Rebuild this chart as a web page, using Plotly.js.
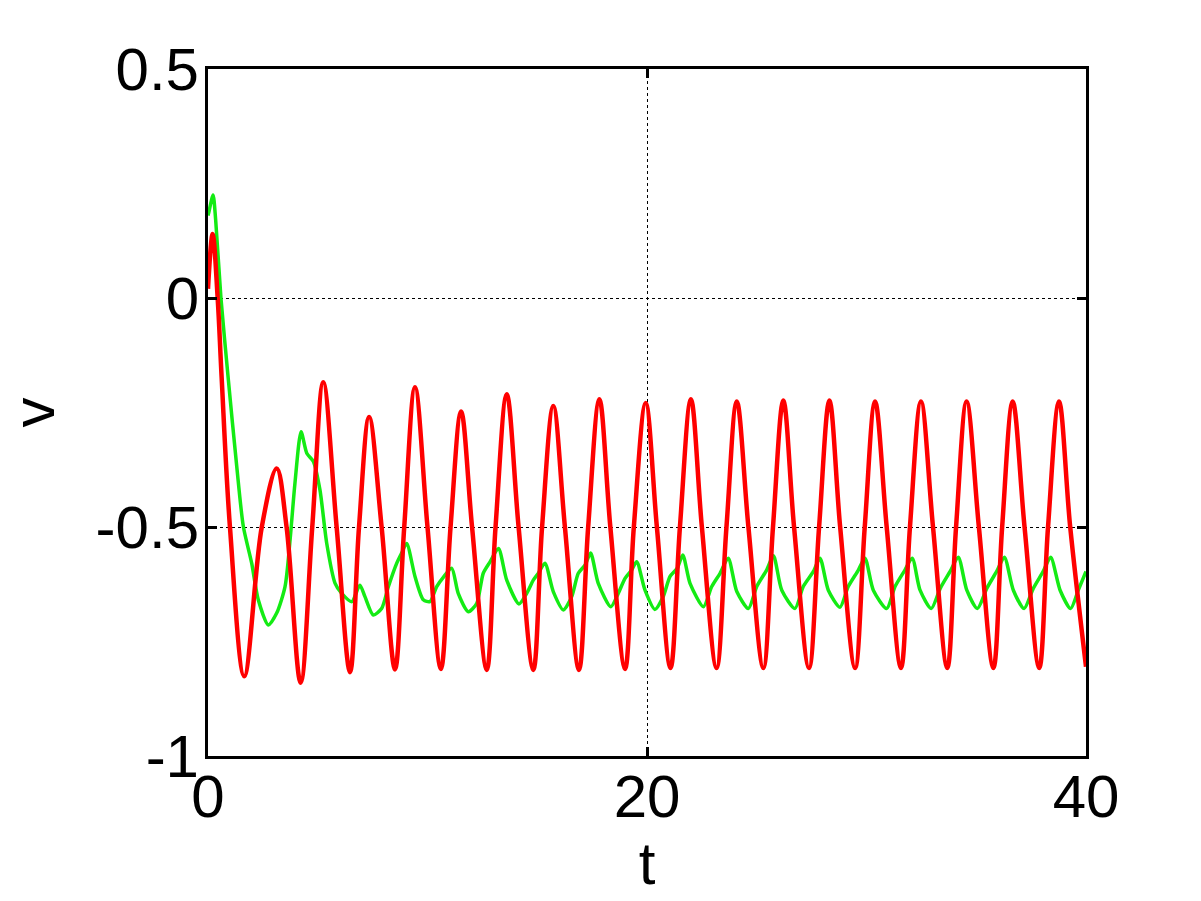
<!DOCTYPE html>
<html>
<head>
<meta charset="utf-8">
<script src="https://cdn.plot.ly/plotly-3.0.1.min.js"></script>
<style>
  html, body { margin: 0; padding: 0; background: #ffffff; }
  #chart { width: 1201px; height: 901px; }
</style>
</head>
<body>
<div id="chart"></div>
<script>
// ---- data ----
const redT = [0, 0.21, 0.44, 0.62, 1.0, 1.65, 2.45, 3.13, 3.58, 4.22, 4.75, 5.25, 5.86, 6.47, 6.88, 7.34, 7.91, 8.52, 8.94, 9.43, 10.0, 10.61, 11.05, 11.53, 12.03, 12.70, 13.10, 13.61, 14.15, 14.82, 15.22, 15.73, 16.26, 16.90, 17.32, 17.83, 18.33, 19.00, 19.40, 19.94, 20.45, 21.07, 21.50, 22.00, 22.50, 23.17, 23.62, 24.09, 24.62, 25.30, 25.74, 26.21, 26.70, 27.38, 27.84, 28.31, 28.80, 29.48, 29.92, 30.39, 30.92, 31.57, 31.98, 32.48, 33.03, 33.68, 34.08, 34.56, 35.12, 35.78, 36.18, 36.66, 37.20, 37.87, 38.27, 38.77, 39.28, 40.0];
const redV = [0.02, 0.14, 0.0, -0.172, -0.5, -0.826, -0.5, -0.372, -0.5, -0.840, -0.5, -0.184, -0.5, -0.817, -0.5, -0.260, -0.5, -0.811, -0.5, -0.195, -0.5, -0.810, -0.5, -0.248, -0.5, -0.812, -0.5, -0.210, -0.5, -0.812, -0.5, -0.236, -0.5, -0.812, -0.5, -0.221, -0.5, -0.810, -0.5, -0.229, -0.5, -0.808, -0.5, -0.221, -0.5, -0.808, -0.5, -0.226, -0.5, -0.808, -0.5, -0.224, -0.5, -0.808, -0.5, -0.224, -0.5, -0.808, -0.5, -0.226, -0.5, -0.808, -0.5, -0.226, -0.5, -0.808, -0.5, -0.226, -0.5, -0.808, -0.5, -0.226, -0.5, -0.808, -0.5, -0.226, -0.5, -0.805];

const greenT = [0, 0.05, 0.23, 0.35, 0.59, 0.93, 1.31, 1.61, 1.99, 2.29, 2.75, 3.13, 3.51, 3.74, 3.96, 4.24, 4.50, 4.80, 5.10, 5.41, 5.79, 6.09, 6.55, 6.92, 7.15, 7.53, 7.91, 8.22, 8.60, 8.82, 9.05, 9.43, 9.81, 10.11, 10.42, 10.72, 11.10, 11.40, 11.86, 12.24, 12.54, 12.85, 13.23, 13.61, 14.17, 14.52, 14.82, 15.05, 15.35, 15.73, 16.19, 16.57, 16.87, 17.18, 17.43, 17.78, 18.35, 18.69, 19.00, 19.30, 19.53, 19.91, 20.36, 20.74, 21.05, 21.38, 21.63, 21.96, 22.57, 22.95, 23.33, 23.70, 24.09, 24.62, 25.00, 25.45, 25.76, 26.14, 26.74, 27.12, 27.58, 27.88, 28.26, 28.79, 29.17, 29.63, 29.93, 30.31, 30.92, 31.30, 31.75, 32.08, 32.44, 32.95, 33.36, 33.81, 34.18, 34.57, 35.05, 35.48, 35.93, 36.28, 36.69, 37.18, 37.60, 38.05, 38.39, 38.82, 39.30, 39.65, 40.0];
const greenV = [0.18, 0.19, 0.225, 0.17, 0.0, -0.18, -0.368, -0.499, -0.579, -0.659, -0.714, -0.688, -0.630, -0.528, -0.405, -0.292, -0.339, -0.357, -0.419, -0.536, -0.623, -0.645, -0.663, -0.627, -0.652, -0.692, -0.678, -0.630, -0.579, -0.557, -0.536, -0.608, -0.659, -0.663, -0.630, -0.610, -0.590, -0.645, -0.685, -0.667, -0.601, -0.576, -0.547, -0.616, -0.668, -0.645, -0.616, -0.601, -0.579, -0.641, -0.681, -0.652, -0.601, -0.583, -0.557, -0.623, -0.674, -0.645, -0.612, -0.594, -0.576, -0.638, -0.680, -0.652, -0.608, -0.590, -0.561, -0.623, -0.674, -0.630, -0.601, -0.568, -0.641, -0.678, -0.630, -0.594, -0.563, -0.638, -0.678, -0.630, -0.597, -0.568, -0.638, -0.675, -0.630, -0.594, -0.568, -0.638, -0.678, -0.630, -0.594, -0.568, -0.638, -0.678, -0.634, -0.597, -0.566, -0.638, -0.678, -0.634, -0.597, -0.566, -0.638, -0.678, -0.634, -0.597, -0.566, -0.638, -0.678, -0.638, -0.597];

const xTickVals = [0, 20, 40];
const xTickText = ['0', '20', '40'];
const yTickVals = [-1, -0.5, 0, 0.5];
const yTickText = ['-1', '-0.5', '0', '0.5'];
const xLabel = 't';
const yLabel = 'v';

// ---- chart ----
const font = { family: 'Liberation Sans, Arial, sans-serif', size: 60, color: '#000000' };

const traces = [
  {
    x: greenT, y: greenV, type: 'scatter', mode: 'lines',
    line: { color: 'rgb(20,235,20)', width: 3.5, shape: 'spline', smoothing: 0.7 },
    hoverinfo: 'skip', showlegend: false
  },
  {
    x: redT, y: redV, type: 'scatter', mode: 'lines',
    line: { color: 'rgb(255,0,0)', width: 4.5, shape: 'spline', smoothing: 1 },
    hoverinfo: 'skip', showlegend: false
  }
];

const axisCommon = {
  showline: true, linecolor: '#000000', linewidth: 3, mirror: 'ticks',
  ticks: 'inside', ticklen: 9, tickwidth: 3, tickcolor: '#000000',
  showgrid: true, gridcolor: '#000000', gridwidth: 1, griddash: 'dot',
  zeroline: false, tickfont: font, automargin: false
};

const layout = {
  width: 1201, height: 901,
  paper_bgcolor: '#ffffff', plot_bgcolor: '#ffffff',
  margin: { l: 208, r: 115, t: 69, b: 145 },
  showlegend: false,
  font: font,
  xaxis: Object.assign({}, axisCommon, {
    range: [0, 40], tickmode: 'array', tickvals: xTickVals, ticktext: xTickText,
    ticklabelstandoff: -14,
    title: { text: xLabel, font: font, standoff: 2 }
  }),
  yaxis: Object.assign({}, axisCommon, {
    range: [-1, 0.5], tickmode: 'array', tickvals: yTickVals, ticktext: yTickText,
    ticklabelstandoff: -6,
    title: { text: yLabel, font: font, standoff: 22 }
  })
};

Plotly.newPlot('chart', traces, layout, { staticPlot: true, displayModeBar: false });
</script>
</body>
</html>
